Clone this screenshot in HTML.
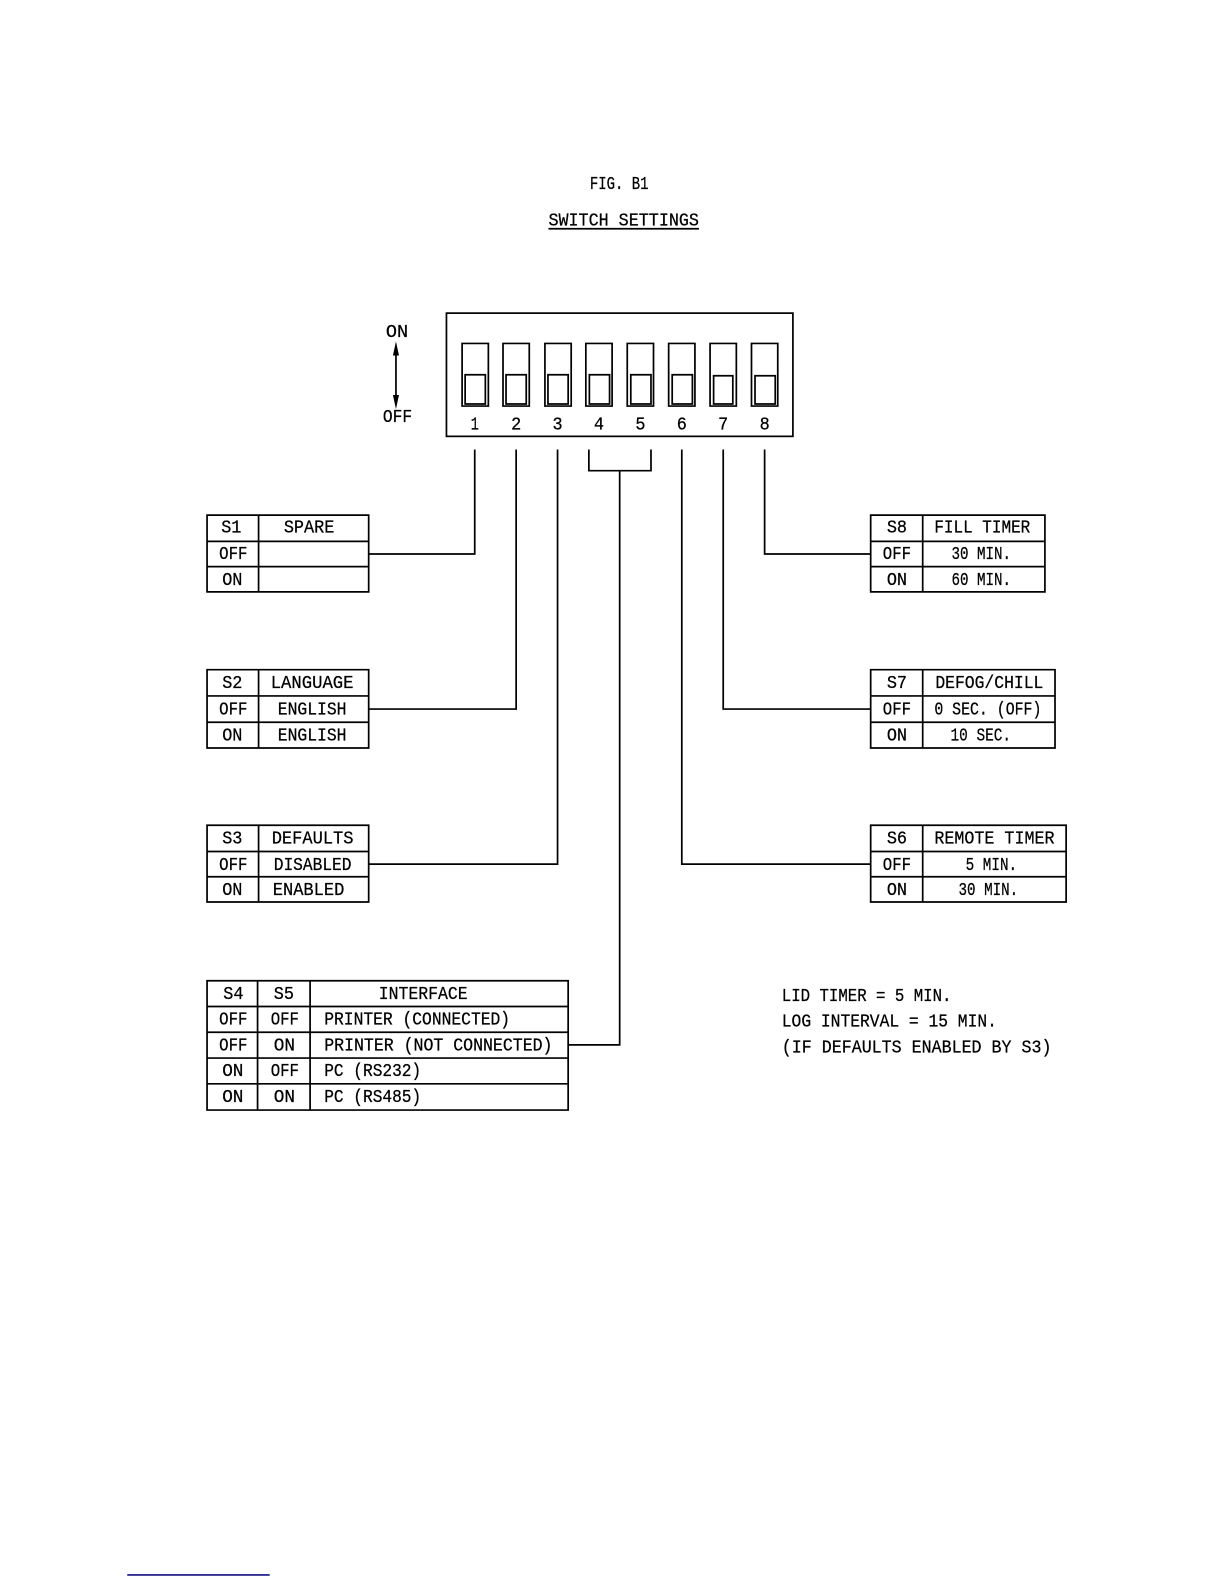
<!DOCTYPE html>
<html><head><meta charset="utf-8"><style>
html,body{margin:0;padding:0;background:#fff}
svg{display:block}
text{font-family:"Liberation Mono",monospace;font-size:18px;fill:#000;stroke:#000;stroke-width:.25;letter-spacing:0;transform:translateY(-.8px)}
.l{fill:none;stroke:#000;stroke-width:1.7}
</style></head><body>
<svg width="1224" height="1584" viewBox="0 0 1211.8 1568.2" xmlns="http://www.w3.org/2000/svg">
<text x="584" y="188" textLength="58" lengthAdjust="spacingAndGlyphs">FIG. B1</text>
<text x="543" y="224" textLength="149" lengthAdjust="spacingAndGlyphs">SWITCH SETTINGS</text>
<path class="l" d="M543 226.500H692"/>
<rect class="l" x="442" y="310" width="343" height="122"/>
<path class="l" d="M457.500 340h26v62h-26zM460.500 371h20v29h-20z"/>
<path class="l" d="M498 340h26v62h-26zM501 371h20v29h-20z"/>
<path class="l" d="M539.500 340h26v62h-26zM542.500 371h20v29h-20z"/>
<path class="l" d="M580 340h26v62h-26zM583.500 371h20v29h-20z"/>
<path class="l" d="M621 340h26v62h-26zM624.500 371h20v29h-20z"/>
<path class="l" d="M662 340h26v62h-26zM665.500 371h20v29h-20z"/>
<path class="l" d="M703 340h26v62h-26zM706.500 372h19v28h-19z"/>
<path class="l" d="M744 340h26v62h-26zM747.500 372h20v28h-20z"/>
<text x="466" y="426" textLength="8" lengthAdjust="spacingAndGlyphs">1</text>
<text x="506" y="426" textLength="10" lengthAdjust="spacingAndGlyphs">2</text>
<text x="547" y="426" textLength="10" lengthAdjust="spacingAndGlyphs">3</text>
<text x="588" y="426" textLength="10" lengthAdjust="spacingAndGlyphs">4</text>
<text x="629" y="426" textLength="10" lengthAdjust="spacingAndGlyphs">5</text>
<text x="670" y="426" textLength="10" lengthAdjust="spacingAndGlyphs">6</text>
<text x="711" y="426" textLength="10" lengthAdjust="spacingAndGlyphs">7</text>
<text x="752" y="426" textLength="10" lengthAdjust="spacingAndGlyphs">8</text>
<text x="382" y="334.500" textLength="22" lengthAdjust="spacingAndGlyphs">ON</text>
<text x="379" y="418.500" textLength="29" lengthAdjust="spacingAndGlyphs">OFF</text>
<path class="l" d="M392 345V398"/>
<path d="M392 338l-3 14h6zM392 405l-3-14h6z" fill="#000"/>
<path class="l" d="M470 445V548.500H365M511 445V702H365M552 445V855.500H365M583 445V466H644.500V445M613.500 466V1034.500H562.500M675 445V855.500H862M716 445V702H862M757 445V548.500H862"/>

<path class="l" d="M205 510H365V586H205ZM205 536H365M205 561H365M256 510V586"/>
<text x="219" y="528" textLength="20" lengthAdjust="spacingAndGlyphs">S1</text>
<text x="281" y="528" textLength="50" lengthAdjust="spacingAndGlyphs">SPARE</text>
<text x="217" y="554" textLength="28" lengthAdjust="spacingAndGlyphs">OFF</text>
<text x="220" y="580" textLength="20" lengthAdjust="spacingAndGlyphs">ON</text>

<path class="l" d="M205 663H365V740.500H205ZM205 689H365M205 715H365M256 663V740"/>
<text x="220" y="682" textLength="20" lengthAdjust="spacingAndGlyphs">S2</text>
<text x="268" y="682" textLength="82" lengthAdjust="spacingAndGlyphs">LANGUAGE</text>
<text x="217" y="708" textLength="28" lengthAdjust="spacingAndGlyphs">OFF</text>
<text x="275" y="708" textLength="68" lengthAdjust="spacingAndGlyphs">ENGLISH</text>
<text x="220" y="734" textLength="20" lengthAdjust="spacingAndGlyphs">ON</text>
<text x="275" y="734" textLength="68" lengthAdjust="spacingAndGlyphs">ENGLISH</text>

<path class="l" d="M205 817H365V893H205ZM205 843H365M205 868H365M256 817V893"/>
<text x="220" y="836" textLength="20" lengthAdjust="spacingAndGlyphs">S3</text>
<text x="269" y="836" textLength="81" lengthAdjust="spacingAndGlyphs">DEFAULTS</text>
<text x="217" y="862" textLength="28" lengthAdjust="spacingAndGlyphs">OFF</text>
<text x="271" y="862" textLength="77" lengthAdjust="spacingAndGlyphs">DISABLED</text>
<text x="220" y="887" textLength="20" lengthAdjust="spacingAndGlyphs">ON</text>
<text x="270" y="887" textLength="71" lengthAdjust="spacingAndGlyphs">ENABLED</text>

<path class="l" d="M205 971H562.500V1099H205ZM205 996.500H562.500M205 1022H562.500M205 1047.500H562.500M205 1073H562.500M255 971V1099M307 971V1099"/>
<text x="221" y="990" textLength="20" lengthAdjust="spacingAndGlyphs">S4</text>
<text x="271" y="990" textLength="20" lengthAdjust="spacingAndGlyphs">S5</text>
<text x="375" y="990" textLength="88" lengthAdjust="spacingAndGlyphs">INTERFACE</text>
<text x="217" y="1015" textLength="28" lengthAdjust="spacingAndGlyphs">OFF</text>
<text x="268" y="1015" textLength="28" lengthAdjust="spacingAndGlyphs">OFF</text>
<text x="321" y="1015" textLength="184" lengthAdjust="spacingAndGlyphs">PRINTER (CONNECTED)</text>
<text x="217" y="1041" textLength="28" lengthAdjust="spacingAndGlyphs">OFF</text>
<text x="271" y="1041" textLength="21" lengthAdjust="spacingAndGlyphs">ON</text>
<text x="321" y="1041" textLength="226" lengthAdjust="spacingAndGlyphs">PRINTER (NOT CONNECTED)</text>
<text x="220" y="1066" textLength="21" lengthAdjust="spacingAndGlyphs">ON</text>
<text x="268" y="1066" textLength="28" lengthAdjust="spacingAndGlyphs">OFF</text>
<text x="321" y="1066" textLength="96" lengthAdjust="spacingAndGlyphs">PC (RS232)</text>
<text x="220" y="1092" textLength="21" lengthAdjust="spacingAndGlyphs">ON</text>
<text x="271" y="1092" textLength="21" lengthAdjust="spacingAndGlyphs">ON</text>
<text x="321" y="1092" textLength="96" lengthAdjust="spacingAndGlyphs">PC (RS485)</text>

<path class="l" d="M862 510H1034.500V586H862ZM862 536H1034.500M862 561H1034.500M913.500 510V586"/>
<text x="878" y="528" textLength="20" lengthAdjust="spacingAndGlyphs">S8</text>
<text x="925" y="528" textLength="95" lengthAdjust="spacingAndGlyphs">FILL TIMER</text>
<text x="874" y="554" textLength="28" lengthAdjust="spacingAndGlyphs">OFF</text>
<text x="942" y="554" textLength="59" lengthAdjust="spacingAndGlyphs">30 MIN.</text>
<text x="878" y="580" textLength="20" lengthAdjust="spacingAndGlyphs">ON</text>
<text x="942" y="580" textLength="59" lengthAdjust="spacingAndGlyphs">60 MIN.</text>

<path class="l" d="M862 663H1044.500V740.500H862ZM862 689H1044.500M862 715H1044.500M913.500 663V740"/>
<text x="878" y="682" textLength="20" lengthAdjust="spacingAndGlyphs">S7</text>
<text x="926" y="682" textLength="107" lengthAdjust="spacingAndGlyphs">DEFOG/CHILL</text>
<text x="874" y="708" textLength="28" lengthAdjust="spacingAndGlyphs">OFF</text>
<text x="925" y="708" textLength="106" lengthAdjust="spacingAndGlyphs">0 SEC. (OFF)</text>
<text x="878" y="734" textLength="20" lengthAdjust="spacingAndGlyphs">ON</text>
<text x="941" y="734" textLength="60" lengthAdjust="spacingAndGlyphs">10 SEC.</text>

<path class="l" d="M862 817H1055.500V893H862ZM862 843H1055.500M862 868H1055.500M913.500 817V893"/>
<text x="878" y="836" textLength="20" lengthAdjust="spacingAndGlyphs">S6</text>
<text x="925" y="836" textLength="119" lengthAdjust="spacingAndGlyphs">REMOTE TIMER</text>
<text x="874" y="862" textLength="28" lengthAdjust="spacingAndGlyphs">OFF</text>
<text x="956" y="862" textLength="51" lengthAdjust="spacingAndGlyphs">5 MIN.</text>
<text x="878" y="887" textLength="20" lengthAdjust="spacingAndGlyphs">ON</text>
<text x="949" y="887" textLength="59" lengthAdjust="spacingAndGlyphs">30 MIN.</text>

<text x="774" y="992" textLength="168" lengthAdjust="spacingAndGlyphs">LID TIMER = 5 MIN.</text>
<text x="774" y="1017" textLength="213" lengthAdjust="spacingAndGlyphs">LOG INTERVAL = 15 MIN.</text>
<text x="774" y="1043" textLength="267" lengthAdjust="spacingAndGlyphs">(IF DEFAULTS ENABLED BY S3)</text>

<rect x="126" y="1558.500" width="141" height="1.5" fill="#00007a"/>
</svg>
</body></html>
